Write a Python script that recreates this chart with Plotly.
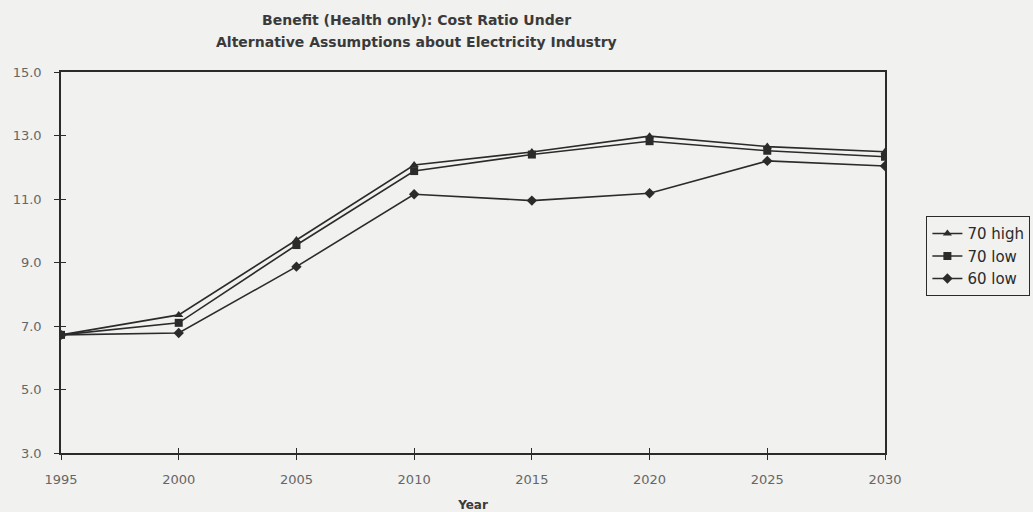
import plotly.graph_objects as go

# Benefit:cost ratio (health only) by year, three electricity-industry assumptions
years = [1995, 2000, 2005, 2010, 2015, 2020, 2025, 2030]
high_70 = [6.72, 7.35, 9.71, 12.07, 12.48, 12.98, 12.65, 12.49]
low_70 = [6.72, 7.10, 9.55, 11.88, 12.40, 12.82, 12.52, 12.33]
low_60 = [6.72, 6.78, 8.87, 11.15, 10.95, 11.18, 12.20, 12.04]

series_names = ["70 high", "70 low", "60 low"]
series_values = [high_70, low_70, low_60]
symbols = ["triangle-up", "square", "diamond"]

x_ticks = [1995, 2000, 2005, 2010, 2015, 2020, 2025, 2030]
y_ticks = [3.0, 5.0, 7.0, 9.0, 11.0, 13.0, 15.0]

title_lines = ["Benefit (Health only): Cost Ratio Under",
               "Alternative Assumptions about Electricity Industry"]

ink = "#2b2b2b"
paper = "#f1f1ef"
font_family = "'DejaVu Sans', sans-serif"

fig = go.Figure()
for name, vals, sym in zip(series_names, series_values, symbols):
    fig.add_trace(go.Scatter(
        x=years, y=vals, name=name, mode="lines+markers",
        line=dict(color=ink, width=1.6),
        marker=dict(symbol=sym, size=8, color=ink),
    ))

axis_common = dict(
    showgrid=False, zeroline=False, showline=True, linecolor=ink,
    linewidth=1.6, ticks="outside", ticklen=5, tickcolor=ink, tickwidth=1.3,
    tickfont=dict(family=font_family, size=13, color="#666666"),
    automargin=False,
)

fig.update_layout(
    width=1033, height=512,
    margin=dict(l=61, r=148, t=72, b=59, autoexpand=False),
    paper_bgcolor=paper, plot_bgcolor=paper,
    font=dict(family=font_family, color=ink),
    xaxis=dict(
        range=[1995, 2030], tickvals=x_ticks, ticktext=[str(v) for v in x_ticks],
        mirror=True, ticklabelstandoff=9,
        title=dict(text="<b>Year</b>", standoff=14,
                   font=dict(family=font_family, size=12, color="#3a3a3a")),
        **axis_common,
    ),
    yaxis=dict(
        range=[3, 15], tickvals=y_ticks, tickformat=".1f",
        mirror=True, ticklabelstandoff=10,
        **axis_common,
    ),
    # companion axes give the tick marks a crossing look
    xaxis2=dict(range=[1995, 2030], overlaying="x", side="bottom", anchor="y",
                tickvals=x_ticks, showticklabels=False, ticks="inside",
                ticklen=5, tickcolor=ink, tickwidth=1.3, showgrid=False,
                zeroline=False, showline=False, automargin=False),
    yaxis2=dict(range=[3, 15], overlaying="y", side="left", anchor="x",
                tickvals=y_ticks, showticklabels=False, ticks="inside",
                ticklen=5, tickcolor=ink, tickwidth=1.3, showgrid=False,
                zeroline=False, showline=False, automargin=False),
    legend=dict(
        x=1.05, y=0.622, xanchor="left", yanchor="top",
        bgcolor=paper, bordercolor=ink, borderwidth=1.2,
        font=dict(family=font_family, size=15, color=ink),
        tracegroupgap=2, itemwidth=30,
    ),
    showlegend=True,
)

# two-line chart title, one annotation per line
for line_text, y_px in zip(title_lines, [20, 42]):
    fig.add_annotation(
        text=f"<b>{line_text}</b>",
        xref="paper", yref="paper", x=(416 - 61) / 824, y=(453 - y_px) / 381,
        xanchor="center", yanchor="middle", showarrow=False,
        font=dict(family=font_family, size=14, color="#3a3a3a"),
    )

# invisible trace so the companion axes are drawn
fig.add_trace(go.Scatter(x=[1995], y=[3], xaxis="x2", yaxis="y2",
                         mode="markers", marker=dict(opacity=0),
                         showlegend=False, hoverinfo="skip"))

fig.write_html("out.html")
